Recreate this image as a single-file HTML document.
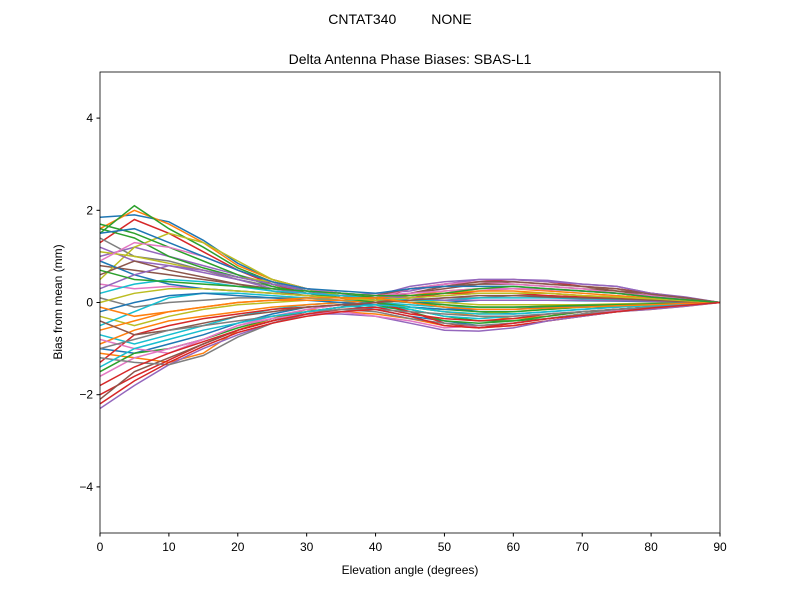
<!DOCTYPE html>
<html><head><meta charset="utf-8"><style>
body{margin:0;background:#fff;}
svg text{font-family:"Liberation Sans","DejaVu Sans",sans-serif;fill:#000;}
</style></head><body>
<svg id="chart" width="800" height="600" xmlns="http://www.w3.org/2000/svg">
<rect width="800" height="600" fill="#fff"/>
<text x="400" y="24" font-size="14" text-anchor="middle" xml:space="preserve">CNTAT340         NONE</text>
<text x="410" y="64" font-size="14" text-anchor="middle">Delta Antenna Phase Biases: SBAS-L1</text>
<g id="lines"></g>
<g id="axes"></g>
<text x="410" y="574" font-size="12" text-anchor="middle">Elevation angle (degrees)</text>
<text transform="translate(62,302) rotate(-90)" font-size="12" text-anchor="middle">Bias from mean (mm)</text>
</svg>
<script>
const elevations=[0,5,10,15,20,25,30,35,40,45,50,55,60,65,70,75,80,85,90];
const xTicks=[0,10,20,30,40,50,60,70,80,90];
const yTicks=[-4,-2,0,2,4];
const yTickLabels=["\u22124","\u22122","0","2","4"];
const s1=[1.85,1.9,1.75,1.35,0.85,0.5,0.3,0.2,0.1,0.0,-0.1,-0.2,-0.25,-0.2,-0.15,-0.1,-0.05,-0.03,0];
const s2=[1.6,2.0,1.7,1.3,0.8,0.5,0.3,0.15,0.05,-0.1,-0.2,-0.3,-0.35,-0.3,-0.2,-0.15,-0.1,-0.05,0];
const s3=[1.5,2.1,1.6,1.2,0.75,0.45,0.25,0.1,0.0,-0.15,-0.3,-0.4,-0.4,-0.35,-0.25,-0.15,-0.1,-0.05,0];
const s4=[1.3,1.8,1.5,1.1,0.7,0.4,0.2,0.1,0.05,0.3,0.4,0.45,0.5,0.45,0.35,0.3,0.2,0.1,0];
const s5=[1.0,1.2,1.0,0.8,0.6,0.4,0.25,0.15,0.2,0.25,0.4,0.5,0.5,0.45,0.4,0.35,0.2,0.12,0];
const s6=[0.8,0.7,0.6,0.5,0.4,0.3,0.2,0.15,0.1,0.2,0.3,0.4,0.4,0.35,0.3,0.25,0.15,0.1,0];
const s7=[0.4,0.3,0.35,0.3,0.25,0.2,0.15,0.1,0.05,0.1,0.2,0.25,0.3,0.3,0.25,0.2,0.15,0.08,0];
const s8=[0.1,-0.1,0.0,0.05,0.1,0.1,0.1,0.05,0.0,0.05,0.1,0.1,0.15,0.15,0.1,0.1,0.05,0.03,0];
const s9=[-0.3,-0.5,-0.3,-0.15,-0.05,0.0,0.05,0.05,0.05,0.0,-0.05,-0.1,-0.1,-0.1,-0.05,-0.05,-0.03,-0.02,0];
const s10=[-0.7,-0.9,-0.7,-0.5,-0.3,-0.15,-0.05,0.0,-0.1,-0.15,-0.3,-0.35,-0.3,-0.25,-0.2,-0.15,-0.1,-0.05,0];
const s11=[-1.0,-1.1,-0.9,-0.7,-0.45,-0.25,-0.1,-0.05,-0.15,-0.3,-0.4,-0.5,-0.45,-0.35,-0.25,-0.2,-0.12,-0.06,0];
const s12=[-1.1,-1.2,-1.3,-1.1,-0.6,-0.35,-0.15,-0.2,-0.25,-0.35,-0.5,-0.55,-0.5,-0.4,-0.3,-0.2,-0.15,-0.08,0];
const s13=[-1.5,-1.1,-1.0,-0.8,-0.55,-0.35,-0.2,-0.1,-0.05,-0.2,-0.4,-0.45,-0.4,-0.3,-0.2,-0.15,-0.1,-0.05,0];
const s14=[-2.0,-1.6,-1.25,-0.9,-0.6,-0.4,-0.2,-0.1,0.0,-0.2,-0.45,-0.55,-0.5,-0.4,-0.3,-0.2,-0.12,-0.06,0];
const s15=[-2.3,-1.8,-1.35,-1.0,-0.7,-0.45,-0.25,-0.25,-0.3,-0.45,-0.6,-0.62,-0.55,-0.4,-0.3,-0.2,-0.15,-0.08,0];
const s16=[-2.1,-1.5,-1.2,-0.9,-0.6,-0.4,-0.2,-0.1,0.05,0.2,0.35,0.4,0.45,0.4,0.35,0.25,0.2,0.1,0];
const s17=[-1.6,-1.2,-1.0,-0.8,-0.5,-0.3,-0.15,-0.05,0.1,0.3,0.4,0.45,0.4,0.35,0.3,0.2,0.15,0.08,0];
const s18=[1.4,1.0,0.9,0.7,0.5,0.35,0.2,0.1,0.05,0.1,0.15,0.2,0.2,0.2,0.15,0.1,0.08,0.04,0];
const s19=[0.5,1.2,1.5,1.3,0.9,0.5,0.3,0.15,0.05,-0.1,-0.2,-0.25,-0.2,-0.15,-0.1,-0.08,-0.05,-0.02,0];
const s20=[-0.5,-0.2,0.1,0.2,0.2,0.15,0.1,0.05,0.0,-0.05,-0.1,-0.1,-0.1,-0.08,-0.06,-0.04,-0.03,-0.01,0];
const s21=[0.9,0.6,0.4,0.3,0.25,0.2,0.15,0.1,0.05,0.0,0.0,0.05,0.05,0.05,0.04,0.03,0.02,0.01,0];
const s22=[-0.9,-0.6,-0.4,-0.3,-0.2,-0.1,-0.05,0.0,0.05,0.15,0.25,0.3,0.3,0.25,0.2,0.15,0.1,0.05,0];
const s23=[1.7,1.5,1.2,0.9,0.6,0.35,0.2,0.1,0.0,-0.1,-0.15,-0.2,-0.2,-0.15,-0.1,-0.08,-0.05,-0.02,0];
const s24=[-1.3,-0.7,-0.5,-0.35,-0.25,-0.15,-0.1,-0.05,0.0,0.1,0.2,0.2,0.2,0.15,0.12,0.1,0.05,0.03,0];
const s25=[1.2,0.9,0.8,0.65,0.5,0.3,0.2,0.15,0.15,0.35,0.45,0.5,0.5,0.48,0.4,0.35,0.2,0.1,0];
const s26=[0.6,0.9,0.7,0.55,0.4,0.25,0.15,0.1,0.15,0.3,0.35,0.45,0.45,0.4,0.35,0.3,0.18,0.1,0];
const s27=[-0.8,-1.0,-1.1,-0.8,-0.5,-0.35,-0.25,-0.2,-0.3,-0.4,-0.55,-0.5,-0.45,-0.35,-0.25,-0.18,-0.12,-0.06,0];
const s28=[-1.2,-1.3,-1.35,-1.15,-0.75,-0.45,-0.25,-0.15,-0.2,-0.35,-0.45,-0.5,-0.45,-0.35,-0.25,-0.2,-0.12,-0.06,0];
const s29=[1.1,1.0,0.85,0.7,0.55,0.45,0.3,0.2,0.15,0.05,0.0,-0.05,-0.05,-0.05,-0.05,-0.03,-0.02,-0.01,0];
const s30=[0.2,0.4,0.5,0.45,0.35,0.25,0.2,0.15,0.1,0.05,0.05,0.1,0.1,0.1,0.08,0.06,0.04,0.02,0];
const s31=[-0.2,0.0,0.15,0.2,0.15,0.1,0.05,0.0,-0.05,-0.1,-0.15,-0.15,-0.15,-0.1,-0.08,-0.06,-0.04,-0.02,0];
const s32=[-0.6,-0.4,-0.2,-0.1,0.0,0.05,0.05,0.05,0.1,0.15,0.2,0.25,0.25,0.2,0.15,0.12,0.08,0.04,0];
const s33=[1.6,1.4,1.0,0.75,0.55,0.4,0.3,0.2,0.1,0.0,-0.05,-0.1,-0.1,-0.08,-0.06,-0.05,-0.03,-0.01,0];
const s34=[-1.8,-1.4,-1.1,-0.85,-0.6,-0.4,-0.25,-0.15,-0.1,-0.25,-0.35,-0.4,-0.35,-0.25,-0.2,-0.15,-0.1,-0.05,0];
const s35=[0.3,0.6,0.8,0.7,0.55,0.4,0.3,0.2,0.15,0.1,0.05,0.05,0.05,0.05,0.05,0.04,0.03,0.01,0];
const s36=[-0.4,-0.7,-0.6,-0.45,-0.3,-0.2,-0.1,-0.05,0.0,0.05,0.1,0.15,0.15,0.12,0.1,0.08,0.05,0.02,0];
const s37=[0.9,1.3,1.2,1.0,0.7,0.45,0.3,0.2,0.15,0.2,0.25,0.3,0.3,0.28,0.25,0.2,0.12,0.06,0];
const s38=[-1.0,-0.8,-0.6,-0.5,-0.4,-0.3,-0.2,-0.15,-0.15,-0.2,-0.25,-0.3,-0.3,-0.25,-0.2,-0.15,-0.1,-0.05,0];
const s39=[0.0,0.2,0.3,0.3,0.25,0.2,0.15,0.1,0.05,0.1,0.15,0.2,0.2,0.2,0.15,0.12,0.08,0.04,0];
const s40=[-1.4,-1.0,-0.8,-0.6,-0.45,-0.3,-0.2,-0.1,-0.05,-0.1,-0.2,-0.25,-0.25,-0.2,-0.15,-0.1,-0.07,-0.03,0];
const s41=[1.5,1.6,1.3,1.0,0.7,0.45,0.3,0.25,0.2,0.3,0.35,0.35,0.35,0.3,0.25,0.2,0.12,0.06,0];
const s42=[-0.1,-0.3,-0.2,-0.1,0.0,0.05,0.1,0.1,0.1,0.0,-0.1,-0.15,-0.15,-0.12,-0.1,-0.07,-0.05,-0.02,0];
const s43=[0.7,0.5,0.45,0.4,0.35,0.3,0.25,0.2,0.15,0.15,0.2,0.3,0.35,0.3,0.25,0.2,0.12,0.06,0];
const s44=[-2.2,-1.7,-1.3,-0.95,-0.65,-0.45,-0.3,-0.2,-0.15,-0.3,-0.5,-0.55,-0.45,-0.35,-0.28,-0.2,-0.12,-0.06,0];
const series=[s1,s2,s3,s4,s5,s6,s7,s8,s9,s10,s11,s12,s13,s14,s15,s16,s17,s18,s19,s20,s21,s22,s23,s24,s25,s26,s27,s28,s29,s30,s31,s32,s33,s34,s35,s36,s37,s38,s39,s40,s41,s42,s43,s44];
const colors=["#1f77b4","#ff7f0e","#2ca02c","#d62728","#9467bd","#8c564b","#e377c2","#7f7f7f","#bcbd22","#17becf"];
const L=100,R=720,T=72,B=533;
const xs=v=>L+(v-0)/(90-0)*(R-L);
const ys=v=>T+(5-v)/(10)*(B-T);
const NS="http://www.w3.org/2000/svg";
const lg=document.getElementById('lines');
series.forEach((s,i)=>{
  const p=document.createElementNS(NS,'polyline');
  p.setAttribute('points',s.map((v,j)=>xs(elevations[j]).toFixed(1)+','+ys(v).toFixed(1)).join(' '));
  p.setAttribute('fill','none');p.setAttribute('stroke',colors[i%10]);p.setAttribute('stroke-width','1.5');
  
  
  lg.appendChild(p);
});
const ax=document.getElementById('axes');
const fr=document.createElementNS(NS,'rect');
fr.setAttribute('x',L);fr.setAttribute('y',T);fr.setAttribute('width',R-L);fr.setAttribute('height',B-T);
fr.setAttribute('fill','none');fr.setAttribute('stroke','#000');fr.setAttribute('stroke-width','0.8');


ax.appendChild(fr);
xTicks.forEach(t=>{
  const l=document.createElementNS(NS,'line');
  l.setAttribute('x1',xs(t));l.setAttribute('x2',xs(t));l.setAttribute('y1',B);l.setAttribute('y2',B+3.5);l.setAttribute('stroke','#000');
  
  
  ax.appendChild(l);
  const tx=document.createElementNS(NS,'text');
  tx.setAttribute('x',xs(t));tx.setAttribute('y',B+18);tx.setAttribute('font-size','12');tx.setAttribute('text-anchor','middle');
  tx.textContent=t;
  
  
  ax.appendChild(tx);
});
yTicks.forEach((t,i)=>{
  const l=document.createElementNS(NS,'line');
  l.setAttribute('x1',L-3.5);l.setAttribute('x2',L);l.setAttribute('y1',ys(t));l.setAttribute('y2',ys(t));l.setAttribute('stroke','#000');
  
  
  ax.appendChild(l);
  const tx=document.createElementNS(NS,'text');
  tx.setAttribute('x',L-7);tx.setAttribute('y',ys(t)+4);tx.setAttribute('font-size','12');tx.setAttribute('text-anchor','end');
  tx.textContent=yTickLabels[i];
  
  
  ax.appendChild(tx);
});
</script>
</body></html>
